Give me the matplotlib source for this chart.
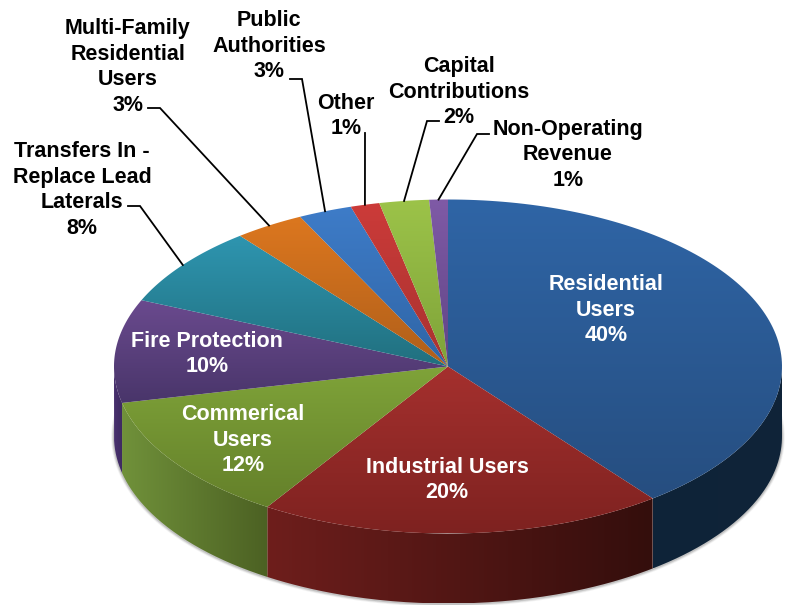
import numpy as np
import matplotlib
matplotlib.use("Agg")
import matplotlib.pyplot as plt
from matplotlib.path import Path
from matplotlib.patches import PathPatch
from matplotlib.colors import LinearSegmentedColormap

# ---- data (clockwise from 12 o'clock) ----
names = ["Residential\nUsers", "Industrial Users", "Commerical\nUsers", "Fire Protection",
         "Transfers In -\nReplace Lead\nLaterals", "Multi-Family\nResidential\nUsers",
         "Public\nAuthorities", "Other", "Capital\nContributions", "Non-Operating\nRevenue"]
shares = [39.5, 19.6, 12.4, 10.0, 7.8, 3.4, 2.6, 1.4, 2.4, 0.9]

# ---- style ----
top_hi = ["#2F65A6", "#A5302E", "#7FA339", "#6A4A8E", "#2E95B0",
          "#DC771F", "#3E7CC8", "#CC3B39", "#9CC349", "#7F5AA6"]
top_lo = ["#264E80", "#7E2220", "#64802A", "#49356A", "#21707F",
          "#B05F1A", "#2F65A6", "#A83230", "#7FA339", "#604585"]
side_l = ["#0E2339", "#6E1E1C", "#70913A", "#48306E", "#21707F",
          "#B05F1A", "#2F65A6", "#A83230", "#7FA339", "#604585"]
side_r = ["#102438", "#340E0C", "#4C6123", "#3E2A60", "#21707F",
          "#B05F1A", "#2F65A6", "#A83230", "#7FA339", "#604585"]
label_xy = [(606, 310), (447, 480), (243, 440), (207, 354), (82, 190),
            (128, 67), (269, 46), (346, 116), (459, 92), (568, 155)]
label_white = [True, True, True, True, False, False, False, False, False, False]
# leader elbows: start near the label, optional bend, then to the rim of the wedge
leaders = {4: [(128, 206), (140, 206)], 5: [(148, 108), (160, 108)], 6: [(290, 79), (302, 79)],
           7: [(365, 133)], 8: [(439, 121), (427, 121)], 9: [(489, 134), (477, 134)]}

CX, CY, RX, RY, DEPTH = 448.0, 366.5, 334.0, 167.0, 70.0
FS = 15.5
plt.rcParams["font.family"] = ["Liberation Sans", "DejaVu Sans"]

fig = plt.figure(figsize=(7.88, 6.05), dpi=100)
ax = fig.add_axes([0, 0, 1, 1])
ax.set_xlim(0, 788)
ax.set_ylim(605, 0)
ax.axis("off")


def rim(phi, dy=0.0):
    r = np.radians(phi)
    return CX + RX * np.sin(r), CY - RY * np.cos(r) + dy


def gradient(path, c1, c2, horizontal, zorder):
    v = path.vertices
    x0, x1, y0, y1 = v[:, 0].min(), v[:, 0].max(), v[:, 1].min(), v[:, 1].max()
    cmap = LinearSegmentedColormap.from_list("g", [c1, c2])
    g = np.linspace(0, 1, 128)
    arr = g[None, :] if horizontal else g[:, None]
    im = ax.imshow(arr, cmap=cmap, extent=(x0, x1, y1, y0), origin="upper",
                   aspect="auto", zorder=zorder, interpolation="bilinear")
    patch = PathPatch(path, transform=ax.transData, fc="none", ec="none")
    ax.add_patch(patch)
    im.set_clip_path(patch)


total = sum(shares)
cum = np.concatenate([[0], np.cumsum(shares)]) / total * 360.0
edges = cum
mids = (cum[:-1] + cum[1:]) / 2

# soft shadow around the lower silhouette
ph = np.linspace(78, 282, 300)
sx, sy = rim(ph, DEPTH)
for lw, a in [(4, 0.08), (2.8, 0.12), (1.6, 0.2)]:
    ax.plot(sx, sy + 0.5, color="#555555", lw=lw, alpha=a, zorder=1, solid_capstyle="round")

# side walls, shaded from left to right
for i in range(len(shares)):
    a, b = max(edges[i], 90.0), min(edges[i + 1], 270.0)
    if b <= a:
        continue
    p = np.linspace(a, b, 120)
    x, y = rim(p)
    verts = np.column_stack([np.r_[x, x[::-1], x[0]], np.r_[y, y[::-1] + DEPTH, y[0]]])
    gradient(Path(verts), side_l[i], side_r[i], True, 2)

# top faces
for i in range(len(shares)):
    p = np.linspace(edges[i], edges[i + 1], 120)
    x, y = rim(p)
    verts = np.column_stack([np.r_[CX, x, CX], np.r_[CY, y, CY]])
    gradient(Path(verts), top_hi[i], top_lo[i], False, 3)

# leader lines
for i, pts in leaders.items():
    ex, ey = rim(mids[i])
    xs = [q[0] for q in pts] + [ex]
    ys = [q[1] for q in pts] + [ey]
    ax.plot(xs, ys, color="black", lw=1.3, zorder=4, solid_joinstyle="miter")

# labels
for i, name in enumerate(names):
    ax.text(label_xy[i][0], label_xy[i][1], f"{name}\n{shares[i]:.0f}%",
            color="white" if label_white[i] else "black", fontsize=FS, fontweight="bold",
            ha="center", va="center", multialignment="center", linespacing=1.31, zorder=5)

ax.set_xlim(0, 788)
ax.set_ylim(605, 0)
fig.savefig("out.png", dpi=100, facecolor="white")
